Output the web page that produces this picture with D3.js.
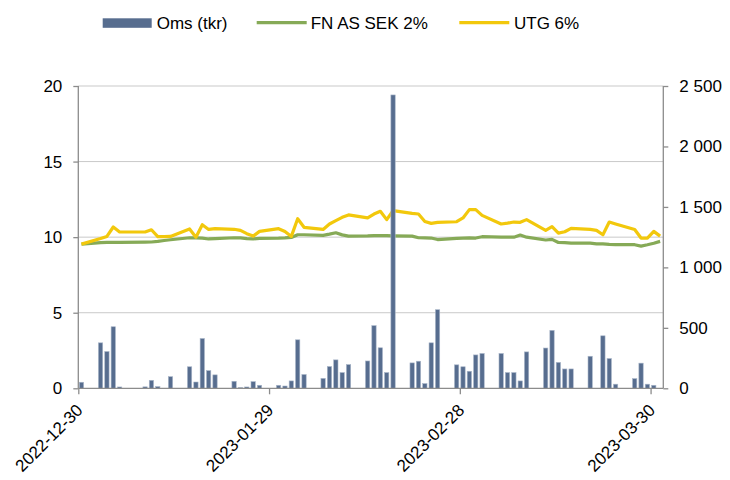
<!DOCTYPE html>
<html lang="en">
<head>
    <meta charset="UTF-8">
    <title>Oms och kurs</title>
    <style>
        body {
            margin: 0;
            background: #fff;
        }
        text {
            font-family: "Liberation Sans", Arial, sans-serif;
            font-size: 17px;
            fill: #000;
        }
    </style>
</head>
<body>
    <script src="https://d3js.org/d3.v7.min.js"></script>
    <script type="text/javascript">
        // trading days
        var dates = [
            "2022-12-30", "2023-01-02", "2023-01-03", "2023-01-04", "2023-01-05",
            "2023-01-09", "2023-01-10", "2023-01-11", "2023-01-12", "2023-01-13",
            "2023-01-16", "2023-01-17", "2023-01-18", "2023-01-19", "2023-01-20",
            "2023-01-23", "2023-01-24", "2023-01-25", "2023-01-26", "2023-01-27",
            "2023-01-30", "2023-01-31", "2023-02-01", "2023-02-02", "2023-02-03",
            "2023-02-06", "2023-02-07", "2023-02-08", "2023-02-09", "2023-02-10",
            "2023-02-13", "2023-02-14", "2023-02-15", "2023-02-16", "2023-02-17",
            "2023-02-20", "2023-02-21", "2023-02-22", "2023-02-23", "2023-02-24",
            "2023-02-27", "2023-02-28", "2023-03-01", "2023-03-02", "2023-03-03",
            "2023-03-06", "2023-03-07", "2023-03-08", "2023-03-09", "2023-03-10",
            "2023-03-13", "2023-03-14", "2023-03-15", "2023-03-16", "2023-03-17",
            "2023-03-20", "2023-03-21", "2023-03-22", "2023-03-23", "2023-03-24",
            "2023-03-27", "2023-03-28", "2023-03-29", "2023-03-30", "2023-03-31"
        ];

        // Oms (tkr), right axis
        var oms = [
            50, 376, 304, 509, 11,
            12, 66, 14, 0, 96,
            178, 52, 412, 146, 111,
            58, 6, 11, 55, 25,
            25, 19, 61, 401, 114,
            82, 180, 235, 130, 196,
            226, 518, 335, 130, 2426,
            210, 224, 39, 376, 650,
            194, 178, 141, 276, 288,
            288, 130, 130, 61, 301,
            333, 479, 214, 160, 160,
            265, 0, 434, 246, 34,
            80, 208, 34, 25, 0
        ];

        // FN AS SEK 2%, left axis
        var fnAs = [
            9.54, 9.64, 9.65, 9.66, 9.66,
            9.67, 9.68, 9.72, 9.78, 9.83,
            9.96, 9.95, 9.93, 9.88, 9.90,
            9.96, 9.95, 9.90, 9.88, 9.92,
            9.93, 9.95, 9.98, 10.16, 10.16,
            10.12, 10.20, 10.29, 10.15, 10.07,
            10.08, 10.10, 10.10, 10.10, 10.09,
            10.07, 9.96, 9.95, 9.94, 9.84,
            9.92, 9.94, 9.95, 9.94, 10.03,
            10.00, 10.00, 10.00, 10.14, 10.00,
            9.81, 9.85, 9.65, 9.64, 9.61,
            9.60, 9.56, 9.55, 9.52, 9.50,
            9.50, 9.41, 9.50, 9.60, 9.72
        ];

        // UTG 6%, left axis
        var utg = [
            9.54, 9.91, 10.05, 10.67, 10.34,
            10.34, 10.49, 10.03, 10.03, 10.05,
            10.54, 10.00, 10.82, 10.51, 10.56,
            10.52, 10.45, 10.23, 10.07, 10.38,
            10.56, 10.38, 10.05, 11.22, 10.65,
            10.51, 10.87, 11.09, 11.31, 11.47,
            11.27, 11.53, 11.71, 11.16, 11.75,
            11.57, 11.53, 11.04, 10.91, 10.98,
            11.02, 11.27, 11.82, 11.82, 11.44,
            10.87, 10.93, 11.00, 10.98, 11.16,
            10.45, 10.69, 10.27, 10.36, 10.58,
            10.51, 10.45, 10.16, 11.00, 10.87,
            10.51, 9.94, 9.94, 10.38, 10.07
        ];

        var leftTicks = [0, 5, 10, 15, 20];
        var rightTicks = [0, 500, 1000, 1500, 2000, 2500];
        var dateTicks = ["2022-12-30", "2023-01-29", "2023-02-28", "2023-03-30"];

        var width = 730;
        var height = 480;
        var x0 = 78.3, x1 = 663.3, yTop = 86, yBot = 388.3;

        var parse = d3.timeParse("%Y-%m-%d");
        var mid = function(s) { return d3.timeHour.offset(parse(s), 12); };

        var x = d3.scaleTime()
                  .domain([parse("2022-12-30"), parse("2023-04-01")])
                  .range([x0, x1]);
        var yL = d3.scaleLinear().domain([0, 20]).range([yBot, yTop]);
        var yR = d3.scaleLinear().domain([0, 2500]).range([yBot, yTop]);

        var dayW = x(parse("2023-01-02")) - x(parse("2023-01-01"));
        var barW = dayW * 0.68;

        var svg = d3.select("body")
                    .append("svg")
                    .attr("width", width)
                    .attr("height", height);

        // gridlines
        svg.selectAll("line.grid")
           .data(leftTicks.slice(1))
           .enter()
           .append("line")
           .attr("x1", x0).attr("x2", x1)
           .attr("y1", function(d) { return yL(d); })
           .attr("y2", function(d) { return yL(d); })
           .attr("stroke", "#c9c9c9")
           .attr("stroke-width", 1);

        // lines (primary axis)
        var line = function(vals) {
            return d3.line()
                     .x(function(d, i) { return x(mid(dates[i])); })
                     .y(function(d) { return yL(d); })(vals);
        };
        svg.append("path")
           .attr("d", line(fnAs))
           .attr("fill", "none")
           .attr("stroke", "#86aa57")
           .attr("stroke-width", 3.2)
           .attr("stroke-linejoin", "round");
        svg.append("path")
           .attr("d", line(utg))
           .attr("fill", "none")
           .attr("stroke", "#f2c80c")
           .attr("stroke-width", 3.2)
           .attr("stroke-linejoin", "round");

        // bars (secondary axis, drawn on top)
        svg.selectAll("rect.bar")
           .data(oms)
           .enter()
           .append("rect")
           .attr("class", "bar")
           .attr("x", function(d, i) { return x(mid(dates[i])) - barW / 2; })
           .attr("y", function(d) { return yR(d); })
           .attr("width", barW)
           .attr("height", function(d) { return yBot - yR(d); })
           .attr("fill", "#576d8f")
           .attr("stroke", "#a9b6c9")
           .attr("stroke-width", 0.6);

        // axes
        var fmt = d3.formatLocale({decimal: ",", thousands: " ", grouping: [3], currency: ["", " kr"]}).format(",");

        var axL = svg.append("g")
           .attr("transform", "translate(" + x0 + ",0)")
           .call(d3.axisLeft(yL).tickValues(leftTicks).tickSize(5).tickPadding(11));
        var axR = svg.append("g")
           .attr("transform", "translate(" + x1 + ",0)")
           .call(d3.axisRight(yR).tickValues(rightTicks).tickSize(5).tickPadding(11).tickFormat(fmt));
        var axB = svg.append("g")
           .attr("transform", "translate(0," + yBot + ")")
           .call(d3.axisBottom(x).tickValues(dateTicks.map(parse)).tickSize(6).tickFormat(d3.timeFormat("%Y-%m-%d")));

        [axL, axR, axB].forEach(function(ax) {
            ax.selectAll("path.domain").attr("stroke", "#8c8c8c").attr("stroke-width", 1.3);
            ax.selectAll(".tick line").attr("stroke", "#8c8c8c").attr("stroke-width", 1.3);
            ax.selectAll("text").attr("font-size", null).attr("font-family", null).attr("fill", "#000");
            ax.attr("font-size", null).attr("font-family", null);
        });
        axB.select("path.domain").attr("d", "M" + x0 + ",0H" + x1);
        axL.select("path.domain").attr("d", "M0," + yTop + "V" + yBot);
        axR.select("path.domain").attr("d", "M0," + yTop + "V" + yBot);

        axB.selectAll("text")
           .attr("x", 0).attr("y", 0).attr("dy", null)
           .attr("text-anchor", "end")
           .attr("transform", "translate(5,23) rotate(-45)");

        // legend
        var legend = svg.append("g");
        legend.append("rect")
              .attr("x", 102.7).attr("y", 18.3)
              .attr("width", 49).attr("height", 9.5)
              .attr("fill", "#576d8f");
        legend.append("text").attr("x", 156.7).attr("y", 29.3).text("Oms (tkr)");
        legend.append("line")
              .attr("x1", 256.7).attr("x2", 306.7).attr("y1", 22.7).attr("y2", 22.7)
              .attr("stroke", "#86aa57").attr("stroke-width", 3.2);
        legend.append("text").attr("x", 310.7).attr("y", 29.3).text("FN AS SEK 2%");
        legend.append("line")
              .attr("x1", 459.3).attr("x2", 509.3).attr("y1", 22.7).attr("y2", 22.7)
              .attr("stroke", "#f2c80c").attr("stroke-width", 3.2);
        legend.append("text").attr("x", 514).attr("y", 29.3).text("UTG 6%");
    </script>
</body>
</html>
